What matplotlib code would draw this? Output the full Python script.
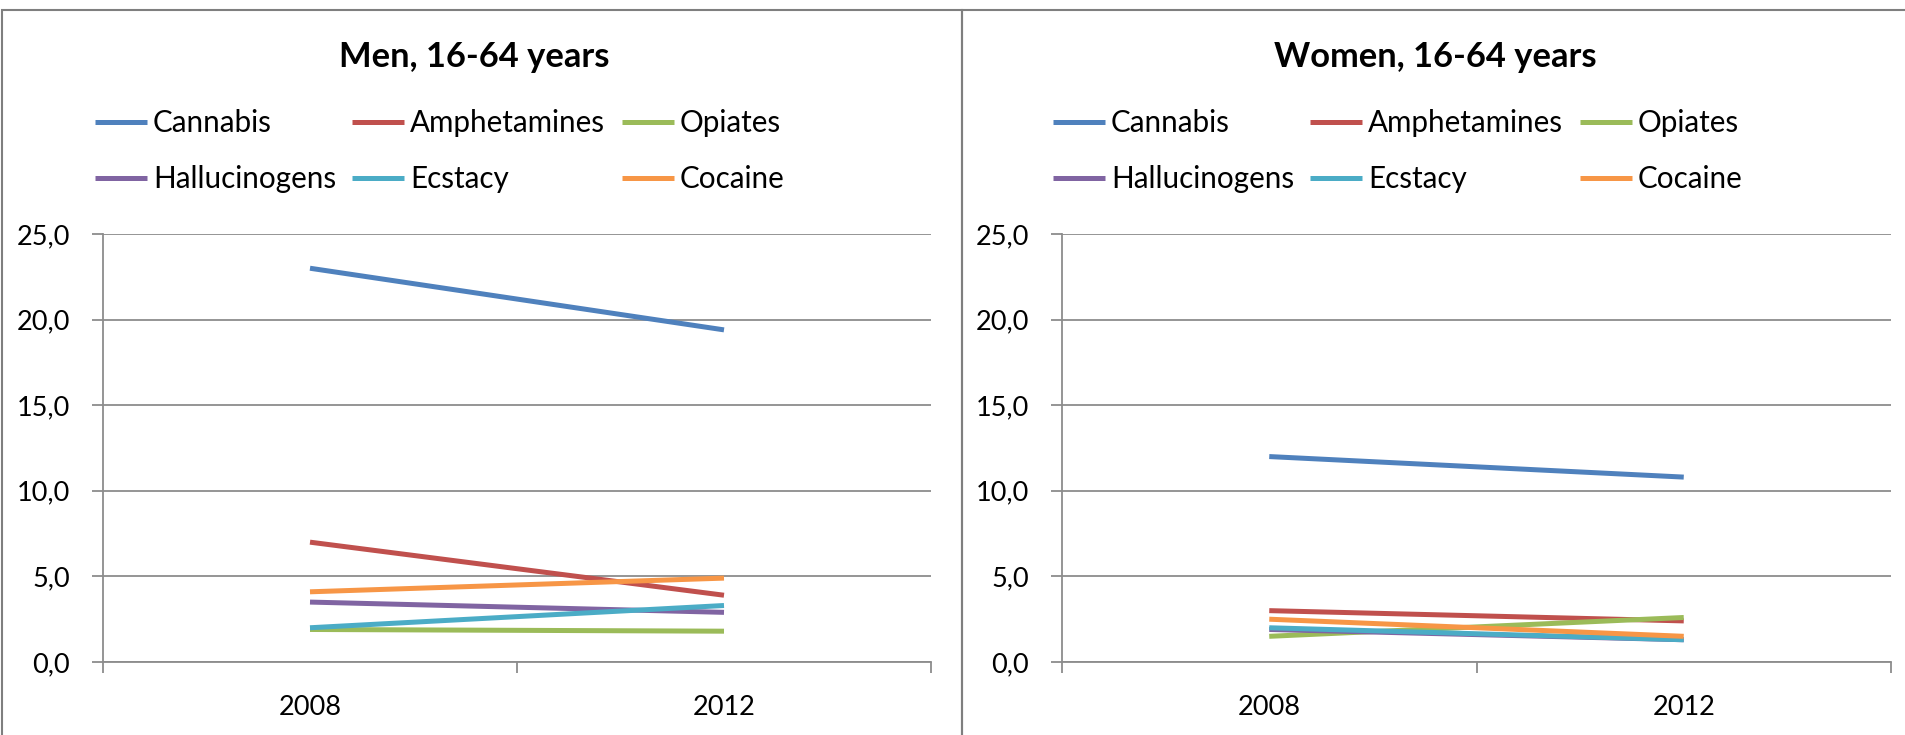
import matplotlib.pyplot as plt
from matplotlib.patches import Rectangle
from matplotlib.ticker import FixedLocator, FuncFormatter

# Prevalence (%) of drug use, 16-64 years
years = ['2008', '2012']
drugs = ['Cannabis', 'Amphetamines', 'Opiates', 'Hallucinogens', 'Ecstacy', 'Cocaine']
colors = ['#4F81BD', '#C0504D', '#9BBB59', '#8064A2', '#4BACC6', '#F79646']

men = {
    'Cannabis': [23.0, 19.4],
    'Amphetamines': [7.0, 3.9],
    'Opiates': [1.9, 1.8],
    'Hallucinogens': [3.5, 2.9],
    'Ecstacy': [2.0, 3.3],
    'Cocaine': [4.1, 4.9],
}
women = {
    'Cannabis': [12.0, 10.8],
    'Amphetamines': [3.0, 2.4],
    'Opiates': [1.5, 2.6],
    'Hallucinogens': [1.9, 1.3],
    'Ecstacy': [2.0, 1.3],
    'Cocaine': [2.5, 1.5],
}

GRID = '#8C8C8C'
FONT = 'Lato'
plt.rcParams['font.family'] = FONT

W, H = 1905, 735
fig = plt.figure(figsize=(W / 100, H / 100), dpi=100)


def px(x, y):
    return x / W, 1 - y / H


def draw_panel(data, title, ax_left, ax_right, legend_x, panel_x0, panel_x1):
    # chart area border
    x0, _ = px(panel_x0, 0)
    x1, _ = px(panel_x1, 0)
    _, ytop = px(0, 10)
    fig.patches.append(Rectangle((x0, -0.05), x1 - x0, ytop + 0.05, transform=fig.transFigure,
                                 fill=False, edgecolor='#7F7F7F', linewidth=1.5, zorder=0))

    l, b = px(ax_left, 662)
    r, t = px(ax_right, 234)
    ax = fig.add_axes([l, b, r - l, t - b])

    xs = range(len(years))
    for name, c in zip(drugs, colors):
        ax.plot(xs, data[name], color=c, linewidth=3.6, solid_capstyle='butt', label=name, zorder=3)

    ax.set_xlim(-0.5, len(years) - 0.5)
    ax.set_ylim(0, 25)
    ax.yaxis.set_major_locator(FixedLocator([0, 5, 10, 15, 20, 25]))
    ax.yaxis.set_major_formatter(FuncFormatter(lambda v, p: f'{v:.1f}'.replace('.', ',')))
    ax.grid(axis='y', color=GRID, linewidth=1.3, zorder=1)

    ax.set_xticks(list(xs))
    ax.set_xticklabels(years)
    ax.set_xticks([-0.5, 0.5, 1.5], minor=True)
    ax.tick_params(axis='x', which='major', length=0, pad=24, labelsize=19.5)
    ax.tick_params(axis='x', which='minor', length=8, width=1.3, color=GRID, direction='out')
    ax.tick_params(axis='y', length=8, width=1.3, color=GRID, pad=16, labelsize=19.5)

    for side in ['top', 'right']:
        ax.spines[side].set_visible(False)
    for side in ['left', 'bottom']:
        ax.spines[side].set_color(GRID)
        ax.spines[side].set_linewidth(1.3)

    tx, ty = px((panel_x0 + panel_x1) / 2 - 8, 57)
    fig.text(tx, ty, title, ha='center', va='center', fontsize=24.8, fontweight='bold')

    # legend entries read row by row: reorder for column-major fill
    handles, labels = ax.get_legend_handles_labels()
    order = [0, 3, 1, 4, 2, 5]
    lx, ly = px(legend_x, 109)
    fig.legend([handles[i] for i in order], [labels[i] for i in order],
               loc='upper left', bbox_to_anchor=(lx, ly), ncol=3, frameon=False,
               fontsize=21.3, handlelength=1.76, handletextpad=0.2, columnspacing=0.55,
               labelspacing=0.95, borderpad=0, borderaxespad=0)
    return ax


draw_panel(men, 'Men, 16-64 years', 103, 931, 95, 2, 962)
draw_panel(women, 'Women, 16-64 years', 1062, 1891, 1053, 962, 1925)

fig.savefig('out.png', dpi=100)
